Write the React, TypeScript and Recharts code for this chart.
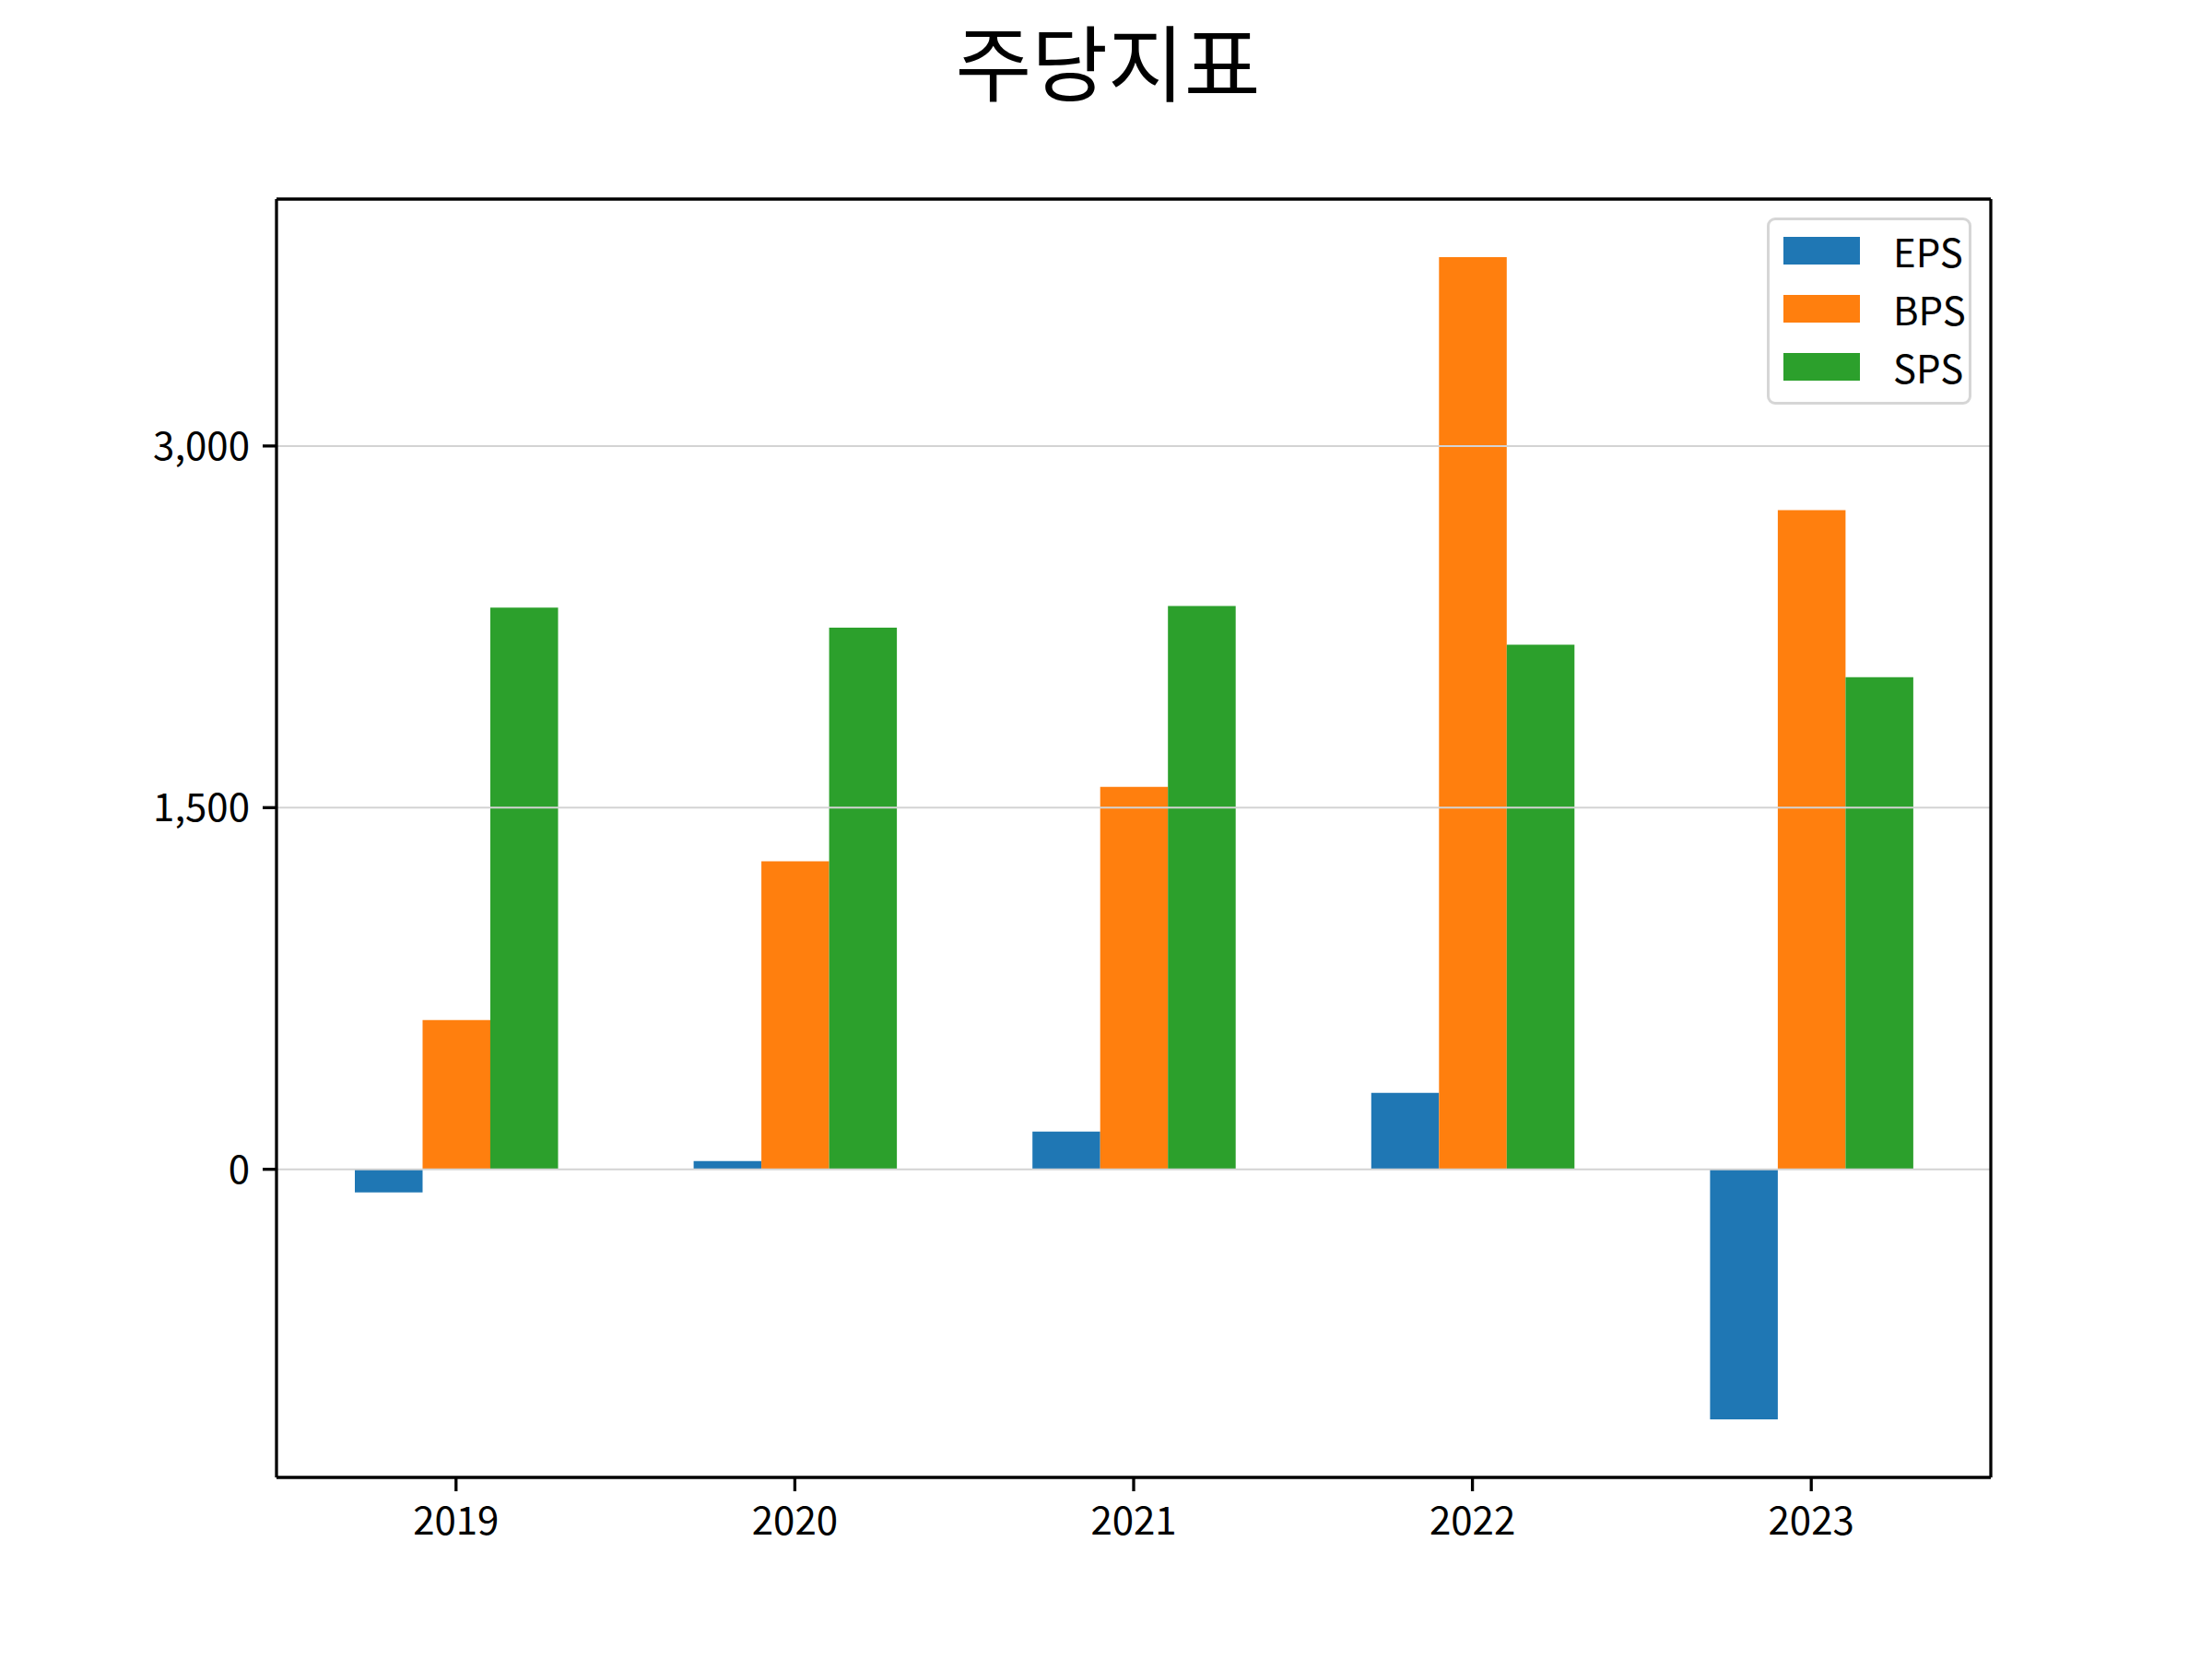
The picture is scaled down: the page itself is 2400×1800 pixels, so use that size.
import React from "react";
import {
  Bar,
  BarChart,
  CartesianGrid,
  Legend,
  XAxis,
  YAxis,
} from "recharts";

const years = ["2019", "2020", "2021", "2022", "2023"];
const eps = [-96, 34, 156, 317, -1037];
const bps = [619, 1277, 1586, 3783, 2734];
const sps = [2330, 2246, 2336, 2176, 2041];
const yTicks = [0, 1500, 3000];

const series = [
  { key: "EPS", values: eps, color: "#1f77b4" },
  { key: "BPS", values: bps, color: "#ff7f0e" },
  { key: "SPS", values: sps, color: "#2ca02c" },
];

const data = years.map((year, i) => ({
  year,
  EPS: eps[i],
  BPS: bps[i],
  SPS: sps[i],
}));

const FONT = "'Noto Sans CJK KR', 'Noto Sans', sans-serif";
const tickStyle = { fill: "#000", fontSize: 42, fontFamily: FONT };
const spine = { stroke: "#000", strokeWidth: 3.3 };

const formatTick = (v: number) => v.toLocaleString("en-US");

// legend box drawn like matplotlib's default framed legend, in series order
function LegendBox() {
  return (
    <div
      style={{
        width: 222,
        height: 203,
        boxSizing: "border-box",
        border: "3px solid #d6d6d6",
        borderRadius: 9,
        background: "rgba(255,255,255,0.8)",
        paddingTop: 1,
        paddingLeft: 15,
        fontFamily: FONT,
        fontSize: 42,
      }}
    >
      {series.map((s) => (
        <div
          key={s.key}
          style={{ display: "flex", alignItems: "center", height: 63 }}
        >
          <div style={{ width: 83, height: 30, background: s.color }} />
          <span style={{ marginLeft: 36, color: "#000", lineHeight: 1 }}>
            {s.key}
          </span>
        </div>
      ))}
    </div>
  );
}

export default function App() {
  return (
    <div
      style={{
        position: "absolute",
        left: 0,
        top: 0,
        width: 2400,
        height: 1800,
        background: "#fff",
      }}
    >
      <svg
        width={2400}
        height={130}
        style={{ position: "absolute", left: 0, top: 0 }}
      >
        <text
          x={1202}
          y={103}
          textAnchor="middle"
          fontSize={90}
          fontFamily={FONT}
          fill="#000"
        >
          주당지표
        </text>
      </svg>
      <BarChart
        width={2400}
        height={1800}
        data={data}
        margin={{ top: 215, right: 239, left: 0, bottom: 0 }}
        barGap={0}
        barSize={73.5}
      >
        {series.map((s) => (
          <Bar
            key={s.key}
            dataKey={s.key}
            name={s.key}
            fill={s.color}
            isAnimationActive={false}
          />
        ))}
        <CartesianGrid
          vertical={false}
          stroke="#d3d3d3"
          strokeWidth={2}
          zIndex={400}
        />
        <XAxis
          dataKey="year"
          height={197}
          padding={{ left: 11, right: 11 }}
          axisLine={spine}
          tickLine={spine}
          tickSize={15}
          tickMargin={17}
          tick={tickStyle}
        />
        <XAxis
          xAxisId="top"
          dataKey="year"
          orientation="top"
          height={1}
          axisLine={spine}
          tick={false}
          tickLine={false}
        />
        <YAxis
          type="number"
          width={300}
          domain={[-1278, 4024]}
          ticks={yTicks}
          allowDataOverflow
          axisLine={spine}
          tickLine={spine}
          tickSize={15}
          tickMargin={14}
          tick={tickStyle}
          tickFormatter={formatTick}
        />
        <YAxis
          yAxisId="right"
          type="number"
          orientation="right"
          width={1}
          domain={[0, 1]}
          axisLine={spine}
          tick={false}
          tickLine={false}
        />
        <Legend
          layout="horizontal"
          verticalAlign="middle"
          content={<LegendBox />}
          wrapperStyle={{ left: 1917, top: 236, width: 222, height: 203 }}
        />
      </BarChart>
    </div>
  );
}
